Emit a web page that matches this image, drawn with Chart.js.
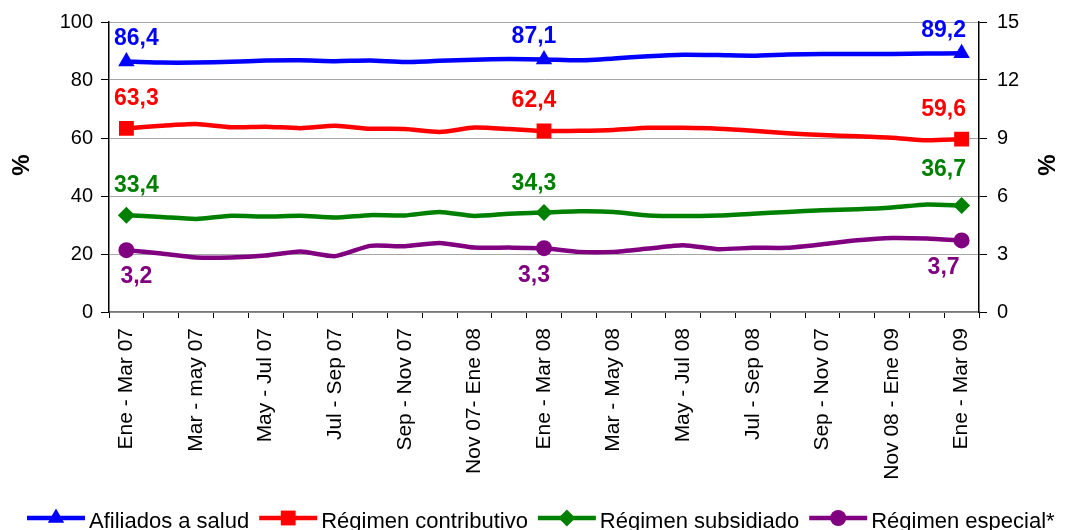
<!DOCTYPE html>
<html>
<head>
<meta charset="utf-8">
<script src="https://cdn.jsdelivr.net/npm/chart.js@4.4.1/dist/chart.umd.min.js"></script>
<style>
  html, body { margin: 0; padding: 0; background: #ffffff; }
  #wrap { width: 1068px; height: 530px; position: relative; }
</style>
</head>
<body>
<div id="wrap"><canvas id="c" width="1068" height="530"></canvas></div>
<script>
// ---- data ----
const categories = ["Ene - Mar 07","Feb - Abr 07","Mar - may 07","Abr - Jun 07","May - Jul 07","Jun - Ago 07","Jul - Sep 07","Ago - Oct 07","Sep - Nov 07","Oct - Dic 07","Nov 07- Ene 08","Dic 07 - Feb 08","Ene - Mar 08","Feb - Abr 08","Mar - May 08","Abr - Jun 08","May - Jul 08","Jun - Ago 08","Jul - Sep 08","Ago - Oct 08","Sep - Nov 07","Oct - Dic 08","Nov 08 - Ene 09","Dic 08 - Feb 09","Ene - Mar 09"];
const seriesNames = ["Afiliados a salud", "Régimen contributivo", "Régimen subsidiado", "Régimen especial*"];
const afiliados = [86.4, 86.0, 86.0, 86.3, 86.7, 86.8, 86.5, 86.7, 86.2, 86.6, 87.0, 87.2, 87.1, 86.8, 87.4, 88.2, 88.7, 88.6, 88.4, 88.8, 89.0, 89.0, 89.0, 89.1, 89.2];
const contributivo = [63.3, 64.2, 64.8, 63.7, 63.9, 63.4, 64.2, 63.2, 63.1, 62.1, 63.6, 63.1, 62.4, 62.5, 62.8, 63.5, 63.5, 63.2, 62.5, 61.6, 61.0, 60.6, 60.1, 59.2, 59.6];
const subsidiado = [33.4, 32.8, 32.1, 33.2, 32.9, 33.2, 32.6, 33.4, 33.3, 34.5, 33.1, 33.9, 34.3, 34.7, 34.5, 33.3, 33.1, 33.3, 33.9, 34.5, 35.1, 35.4, 36.0, 37.1, 36.7];
const especial = [3.2, 3.02, 2.82, 2.82, 2.92, 3.13, 2.89, 3.42, 3.40, 3.57, 3.33, 3.33, 3.3, 3.11, 3.11, 3.28, 3.45, 3.25, 3.32, 3.32, 3.5, 3.71, 3.83, 3.80, 3.7];
const leftTicks = [0, 20, 40, 60, 80, 100];
const rightTicks = [0, 3, 6, 9, 12, 15];
const labeledIndices = [0, 12, 24];

// ---- styles ----
const FONT = '"Liberation Sans", Arial, sans-serif';
const colors = ['#0000ff', '#ff0000', '#008000', '#800080'];
const pointStyles = ['triangle', 'rect', 'rectRot', 'circle'];
const markerRadius = [9.5, 10.5, 8.5, 8];
const labelDy = [-23, -30, -29, 27];
const labelDx = {0: 10, 12: -10, 24: -18};

const seriesData = [afiliados, contributivo, subsidiado, especial];
const datasets = seriesData.map((d, k) => ({
  label: seriesNames[k],
  data: d,
  yAxisID: k === 3 ? 'y2' : 'y',
  borderColor: colors[k],
  backgroundColor: colors[k],
  borderWidth: 4.5,
  tension: 0.2,
  pointStyle: pointStyles[k],
  pointRadius: (ctx) => labeledIndices.includes(ctx.dataIndex) ? markerRadius[k] : 0,
  pointHoverRadius: 0,
  pointBorderWidth: 0,
  pointBackgroundColor: colors[k],
  fill: false
}));

const fmt = (v) => v.toFixed(1).replace('.', ',');

const labelsPlugin = {
  id: 'valueLabels',
  afterDatasetsDraw(chart) {
    const ctx = chart.ctx;
    ctx.save();
    ctx.font = 'bold 23px ' + FONT;
    ctx.textAlign = 'center';
    ctx.textBaseline = 'middle';
    chart.data.datasets.forEach((ds, k) => {
      const meta = chart.getDatasetMeta(k);
      labeledIndices.forEach((i) => {
        const p = meta.data[i];
        let dy = labelDy[k];
        if (k === 2 && i === 24) dy = -36;
        ctx.fillStyle = colors[k];
        ctx.fillText(fmt(ds.data[i]), p.x + labelDx[i], p.y + dy);
      });
    });
    ctx.restore();
  }
};

function drawMarker(ctx, style, x, y, r) {
  ctx.beginPath();
  if (style === 'triangle') {
    ctx.moveTo(x, y - r);
    ctx.lineTo(x + r * 0.866, y + r * 0.5);
    ctx.lineTo(x - r * 0.866, y + r * 0.5);
  } else if (style === 'rect') {
    const h = r * 0.707;
    ctx.rect(x - h, y - h, 2 * h, 2 * h);
  } else if (style === 'rectRot') {
    ctx.moveTo(x, y - r); ctx.lineTo(x + r, y); ctx.lineTo(x, y + r); ctx.lineTo(x - r, y);
  } else {
    ctx.arc(x, y, r, 0, Math.PI * 2);
  }
  ctx.closePath();
  ctx.fill();
}

const legendPlugin = {
  id: 'customLegend',
  afterDraw(chart) {
    const ctx = chart.ctx;
    ctx.save();
    // axis titles
    ctx.font = 'bold 24px ' + FONT;
    ctx.fillStyle = '#000';
    ctx.textAlign = 'center';
    ctx.textBaseline = 'middle';
    const ca = chart.chartArea;
    const my = 165;
    [[ca.left - 87, my], [ca.right + 69, my]].forEach(([x, y]) => {
      ctx.save(); ctx.translate(x, y); ctx.rotate(-Math.PI / 2); ctx.fillText('%', 0, 0); ctx.restore();
    });
    // legend
    ctx.font = '22px ' + FONT;
    ctx.textAlign = 'left';
    ctx.textBaseline = 'alphabetic';
    let x = 27;
    const ly = 518;
    seriesNames.forEach((name, k) => {
      ctx.strokeStyle = colors[k];
      ctx.fillStyle = colors[k];
      ctx.lineWidth = 4.5;
      ctx.beginPath(); ctx.moveTo(x, ly); ctx.lineTo(x + 58, ly); ctx.stroke();
      drawMarker(ctx, pointStyles[k], x + 29, ly, markerRadius[k]);
      x += 58 + 4;
      ctx.fillStyle = '#000';
      ctx.fillText(name, x, 528);
      x += ctx.measureText(name).width + 10;
    });
    ctx.restore();
  }
};

new Chart(document.getElementById('c'), {
  type: 'line',
  data: { labels: categories, datasets },
  plugins: [labelsPlugin, legendPlugin],
  options: {
    responsive: false,
    animation: false,
    layout: { padding: { top: 21, left: 0, right: 0, bottom: 0 } },
    plugins: { legend: { display: false }, tooltip: { enabled: false } },
    scales: {
      x: {
        type: 'category',
        offset: true,
        afterFit: (s) => { s.height = 218; },
        grid: { drawOnChartArea: false, drawTicks: true, tickLength: 6, tickColor: '#000', offset: true },
        border: { color: '#777', width: 1.5 },
        ticks: {
          autoSkip: false, maxRotation: 90, minRotation: 90, padding: 10,
          color: '#000', font: { family: FONT, size: 21 },
          callback: function (v, i) { return i % 2 === 0 ? categories[i] : ''; }
        }
      },
      y: {
        position: 'left', min: 0, max: 100,
        afterFit: (s) => { s.width = 109; },
        afterBuildTicks: (s) => { s.ticks = leftTicks.map(v => ({ value: v })); },
        grid: { color: '#a6a6a6', lineWidth: 1, tickLength: 8, tickColor: '#000' },
        border: { color: '#000', width: 1.5 },
        ticks: { padding: 8, color: '#000', font: { family: FONT, size: 20 } }
      },
      y2: {
        position: 'right', min: 0, max: 15,
        afterFit: (s) => { s.width = 89; },
        afterBuildTicks: (s) => { s.ticks = rightTicks.map(v => ({ value: v })); },
        grid: { drawOnChartArea: false, tickLength: 8, tickColor: '#000' },
        border: { color: '#000', width: 1.5 },
        ticks: { padding: 10, color: '#000', font: { family: FONT, size: 20 } }
      }
    }
  }
});
</script>
</body>
</html>
